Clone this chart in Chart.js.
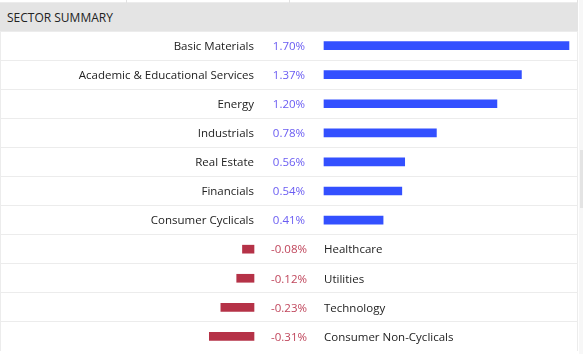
<!DOCTYPE html>
<html>
<head>
<meta charset="utf-8">
<script src="https://cdn.jsdelivr.net/npm/chart.js@4"></script>
<style>
  body { margin: 0; background: #fff; width: 583px; height: 354px; overflow: hidden; position: relative; font-family: "Open Sans", sans-serif; }
  .strip { position: absolute; left: 0; top: 0; width: 578px; height: 3px; border-bottom: 1px solid #ececec; box-sizing: border-box; }
  .strip div { position: absolute; top: 0; width: 1px; height: 3px; background: #e2e2e2; }
  .head { position: absolute; left: 0; top: 3px; width: 578px; height: 28px; background: #e4e4e4; color: #222; font-size: 12px; line-height: 30px; padding-left: 7px; box-sizing: border-box; }
  .box { position: absolute; left: 0; top: 31px; width: 578px; height: 320px; border-left: 1px solid #ececec; border-right: 1px solid #ececec; box-sizing: border-box; }
  .side { position: absolute; left: 579px; top: 0; width: 4px; height: 354px; background: #f7f7f7; }
  .thumb { position: absolute; left: 580px; top: 150px; width: 3px; height: 58px; background: #e4e4e4; }
</style>
</head>
<body>
<div class="strip"><div style="left:126px"></div><div style="left:289px"></div><div style="left:577px"></div></div>
<div class="head">SECTOR SUMMARY</div>
<div class="box"><canvas id="sectorChart" width="576" height="320"></canvas></div>
<div class="side"></div><div class="thumb"></div>
<script>
var sectors = ['Basic Materials', 'Academic & Educational Services', 'Energy', 'Industrials', 'Real Estate',
               'Financials', 'Consumer Cyclicals', 'Healthcare', 'Utilities', 'Technology', 'Consumer Non-Cyclicals'];
var changes = [1.70, 1.37, 1.20, 0.78, 0.56, 0.54, 0.41, -0.08, -0.12, -0.23, -0.31];

// where zero sits for the up bars and the down bars, and how wide 1% is
var zeroUp = 323, zeroDown = 253, pxPerPct = 144.1, areaWidth = 576;

var upData = changes.map(function(v){ return v >= 0 ? v : null; });
var downData = changes.map(function(v){ return v < 0 ? v : null; });

var labelPlugin = {
    id: 'sectorLabels',
    afterDatasetsDraw: function(chart) {
        var ctx = chart.ctx;
        var y = chart.scales.y, xu = chart.scales.xUp, xd = chart.scales.xDown;
        var up0 = xu.getPixelForValue(0), down0 = xd.getPixelForValue(0);
        ctx.save();
        ctx.font = '11.5px "Open Sans"';
        ctx.textBaseline = 'middle';
        changes.forEach(function(v, i){
            var py = y.getPixelForValue(i) + 1;
            ctx.fillStyle = '#222';
            if (v >= 0) {
                ctx.textAlign = 'right';
                ctx.fillText(sectors[i], down0, py);
            } else {
                ctx.textAlign = 'left';
                ctx.fillText(sectors[i], up0, py);
            }
            ctx.textAlign = 'center';
            ctx.fillStyle = v >= 0 ? '#6a5cf2' : '#c0465c';
            ctx.fillText(v.toFixed(2) + '%', (up0 + down0) / 2, py);
        });
        ctx.restore();
    }
};

new Chart(document.getElementById('sectorChart').getContext('2d'), {
    type: 'bar',
    data: {
        labels: sectors,
        datasets: [
            { data: upData, xAxisID: 'xUp', backgroundColor: '#3350ff', barThickness: 8 },
            { data: downData, xAxisID: 'xDown', backgroundColor: '#b53247', barThickness: 8 }
        ]
    },
    options: {
        indexAxis: 'y',
        responsive: false,
        animation: false,
        events: [],
        layout: { padding: 0 },
        plugins: { legend: { display: false }, tooltip: { enabled: false } },
        datasets: { bar: { grouped: false } },
        scales: {
            xUp: { type: 'linear', display: false, min: -zeroUp / pxPerPct, max: (areaWidth - zeroUp) / pxPerPct },
            xDown: { type: 'linear', display: false, min: -zeroDown / pxPerPct, max: (areaWidth - zeroDown) / pxPerPct },
            y: {
                offset: true,
                grid: { offset: true, color: '#ececec', lineWidth: 1, drawTicks: false },
                border: { display: false },
                ticks: { display: false }
            }
        }
    },
    plugins: [labelPlugin]
});
</script>
</body>
</html>
